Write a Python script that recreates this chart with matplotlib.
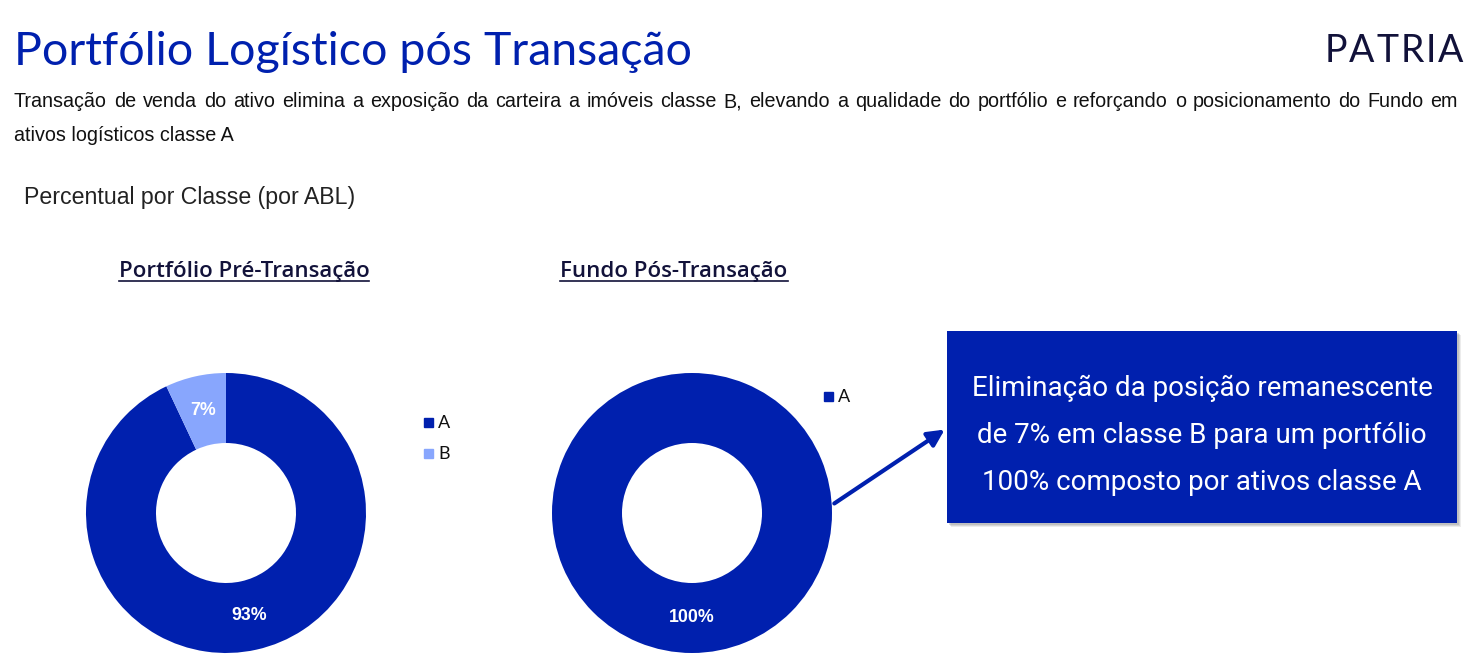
import matplotlib
matplotlib.use("Agg")
import matplotlib.pyplot as plt
from matplotlib.patches import Rectangle, FancyArrowPatch

W, H = 1473, 660

classes = ["A", "B"]
pre_values = [93, 7]
post_values = [100]
class_colors = ["#0020AE", "#88A6FD"]

title = "Portfólio Logístico pós Transação"
intro_line1 = ("Transação de venda do ativo elimina a exposição da carteira a imóveis classe B, "
               "elevando a qualidade do portfólio e reforçando o posicionamento do Fundo em")
intro_line2 = "ativos logísticos classe A"
section = "Percentual por Classe (por ABL)"
chart_titles = ["Portfólio Pré-Transação", "Fundo Pós-Transação"]
box_lines = ["Eliminação da posição remanescente",
             "de 7% em classe B para um portfólio",
             "100% composto por ativos classe A"]

navy = "#12123a"
blue = "#0020AE"

fig = plt.figure(figsize=(W / 100, H / 100), dpi=100)
bg = fig.add_axes([0, 0, 1, 1])
bg.set_xlim(0, W)
bg.set_ylim(H, 0)
bg.axis("off")
renderer = fig.canvas.get_renderer()


def spread(texts, x0, x1):
    # place text pieces so they fill x0..x1 with equal gaps
    widths = [t.get_window_extent(renderer).width for t in texts]
    gap = (x1 - x0 - sum(widths)) / (len(texts) - 1)
    x = x0
    for t, w in zip(texts, widths):
        t.set_x(x)
        x += w + gap


# header
bg.text(14, 65, title, fontsize=33.5, color=blue, family="Lato", va="baseline")
logo = [bg.text(0, 62, ch, fontsize=27, color=navy, family="Lato", va="baseline") for ch in "PATRIA"]
spread(logo, 1325, 1463)

# justified first line
line1 = [bg.text(0, 107, w, fontsize=14.2, family="Liberation Sans", color="#111111", va="baseline")
         for w in intro_line1.split(" ")]
spread(line1, 14, 1458)
bg.text(14, 141, intro_line2, fontsize=14.2, family="Liberation Sans", color="#111111", va="baseline")

bg.text(24, 204, section, fontsize=16.7, family="Liberation Sans", color="#222222", va="baseline")

# chart titles with underline
for cx, t in zip([244, 674], chart_titles):
    tt = bg.text(cx, 277, t, fontsize=16, family="Open Sans", fontweight="semibold", color=navy,
                 ha="center", va="baseline")
    bb = tt.get_window_extent(renderer)
    bg.plot([bb.x0, bb.x1], [281, 281], color=navy, lw=1.2)


def donut(cx, cy, r, values, colors):
    ax = fig.add_axes([(cx - r) / W, (H - cy - r) / H, 2 * r / W, 2 * r / H])
    ax.pie(values, colors=colors, startangle=90, counterclock=False,
           radius=1, autopct="%d%%", pctdistance=0.75,
           wedgeprops=dict(width=0.5, linewidth=0),
           textprops=dict(color="white", fontsize=12.8, fontweight="bold",
                          family="Liberation Sans"))
    ax.set_xlim(-1, 1)
    ax.set_ylim(-1, 1)
    ax.set_aspect("equal")
    return ax


donut(226, 513, 140, pre_values, class_colors)
donut(692, 513, 140, post_values, class_colors[:1])

# legends
for i, (c, col) in enumerate(zip(classes, class_colors)):
    y = 423 + i * 31
    bg.add_patch(Rectangle((424, y - 5), 9, 9, color=col))
    bg.text(438, y, c, fontsize=13, color="#111111", family="Lato", va="center")
bg.add_patch(Rectangle((824, 392), 9, 9, color=class_colors[0]))
bg.text(838, 397, classes[0], fontsize=13, color="#111111", family="Lato", va="center")

# callout box with soft shadow
for k, a in [(4, 0.15), (3, 0.2), (2, 0.25)]:
    bg.add_patch(Rectangle((947 + k, 331 + k), 510, 192, color="#808080", alpha=a, lw=0))
bg.add_patch(Rectangle((947, 331), 510, 192, color=blue, lw=0))
for i, line in enumerate(box_lines):
    bg.text(1202, 388 + i * 47.5, line, fontsize=20, color="white", family="Roboto",
            ha="center", va="center")

bg.add_patch(FancyArrowPatch((832, 505), (947, 428), arrowstyle="-|>,head_length=10,head_width=5",
                             color=blue, lw=3, mutation_scale=1))

fig.savefig("out.png", dpi=100)
